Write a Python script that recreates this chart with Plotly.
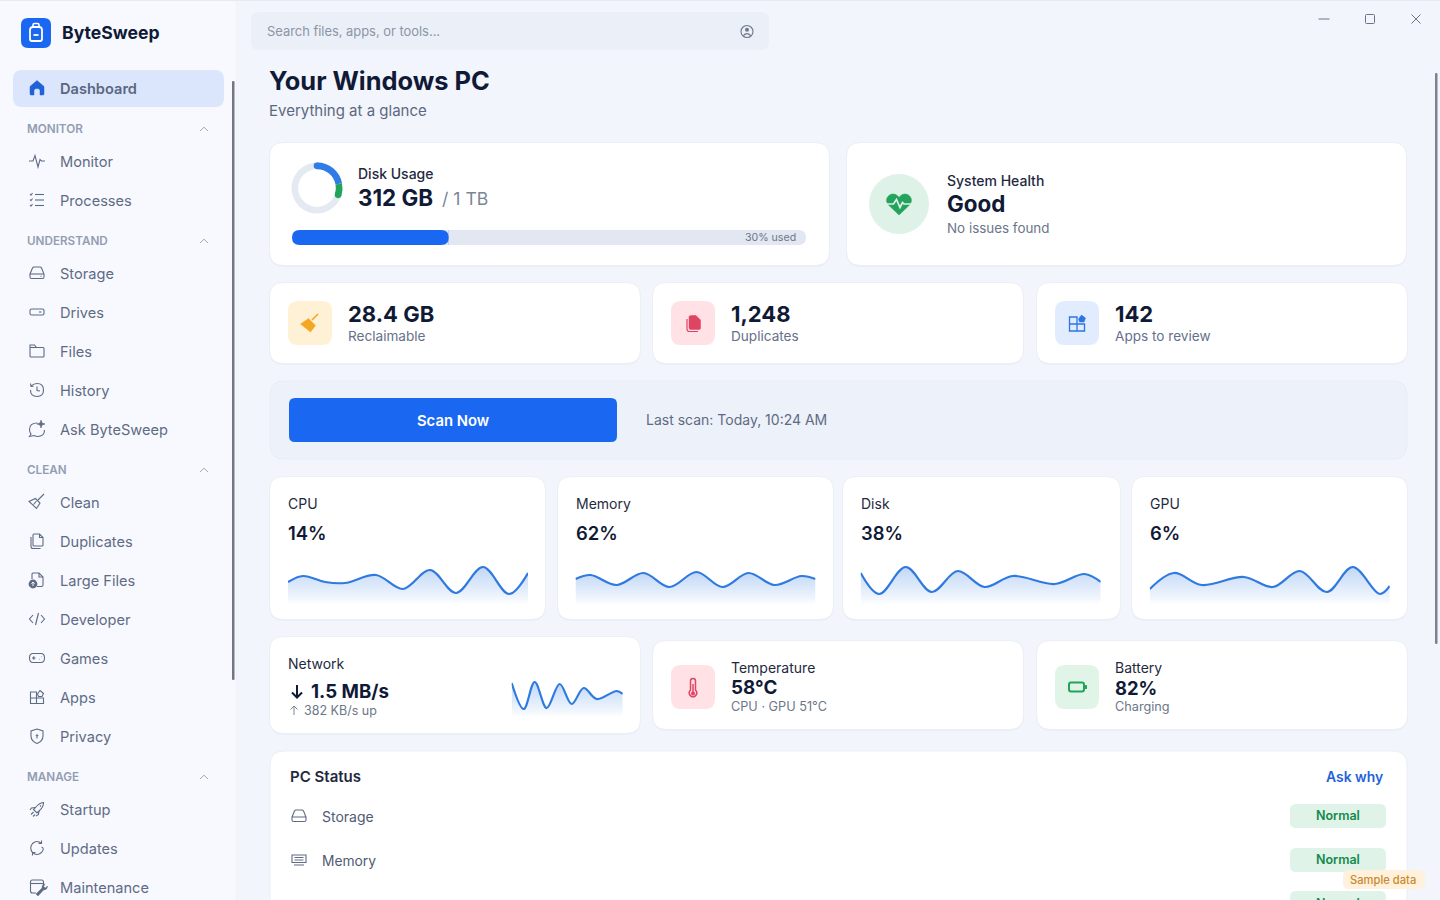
import math
import re
import plotly.graph_objects as go

# ---------- data ----------
nav_sections = ["MONITOR", "UNDERSTAND", "CLEAN", "MANAGE"]
nav_monitor = ["Monitor", "Processes"]
nav_understand = ["Storage", "Drives", "Files", "History", "Ask ByteSweep"]
nav_clean = ["Clean", "Duplicates", "Large Files", "Developer", "Games", "Apps", "Privacy"]
nav_manage = ["Startup", "Updates", "Maintenance"]

disk_labels = ["Used", "Recent", "Free"]
disk_values = [22, 8, 70]
progress_value = [30.5]
progress_total = [100]

cpu_t = [0, 15, 37, 57, 88, 115, 142, 168, 195, 221, 240]
cpu_values = [23, 29, 23, 22, 30, 16, 35, 12, 38, 11, 32]
memory_t = [0, 15, 41, 68, 94, 121, 147, 173, 199, 226, 240]
memory_values = [26, 30, 20, 32, 18, 33, 18, 32, 20, 29, 26]
disk_t = [0, 18.5, 45, 71, 97, 124, 152, 194, 224, 240]
disk_series = [32, 11, 38, 13, 34, 18, 29, 21, 31, 23]
gpu_t = [0, 24, 52, 94, 123, 150, 177, 203, 230, 240]
gpu_values = [16, 32, 20, 28, 18, 34, 13, 38, 11, 19]
network_t = [0, 12, 23, 35, 48, 60, 72, 85, 105, 111]
network_values = [34, 8, 35, 9, 33, 13, 29, 18, 26, 23]

# ---------- helpers ----------
W, H = 1440, 900
shapes, notes = [], []
INK, TXT, MUTED, SIDE = "#101a36", "#1f2a40", "#667189", "#5f6b85"
BLUE = "#1a68f2"
TRACK = "#e2e7f2"
FONT = "Inter"


def rr(x0, y0, x1, y1, r, fill="rgba(0,0,0,0)", line=None, lw=1):
    p = (f"M {x0+r} {y0} L {x1-r} {y0} Q {x1} {y0} {x1} {y0+r} L {x1} {y1-r} Q {x1} {y1} {x1-r} {y1} "
         f"L {x0+r} {y1} Q {x0} {y1} {x0} {y1-r} L {x0} {y0+r} Q {x0} {y0} {x0+r} {y0} Z")
    shapes.append(dict(type="path", path=p, xref="x", yref="y", fillcolor=fill, layer="below",
                       line=dict(color=line or "rgba(0,0,0,0)", width=lw if line else 0)))


def ic(cx, cy, path, color=SIDE, lw=1.1, fill="rgba(0,0,0,0)", layer="below"):
    toks = re.findall(r"[A-Za-z]|-?\d+\.?\d*", path)
    out, i = [], 0
    for tk in toks:
        if tk.isalpha():
            out.append(tk)
            i = 0
        else:
            out.append(f"{float(tk) + (cx if i % 2 == 0 else cy):.2f}")
            i += 1
    shapes.append(dict(type="path", path=" ".join(out), xref="x", yref="y", fillcolor=fill, layer=layer,
                       line=dict(color=color, width=lw)))


def circ(cx, cy, r, fill="rgba(0,0,0,0)", line=None, lw=1.1, layer="below"):
    shapes.append(dict(type="circle", x0=cx-r, x1=cx+r, y0=cy-r, y1=cy+r, xref="x", yref="y",
                       fillcolor=fill, layer=layer,
                       line=dict(color=line or "rgba(0,0,0,0)", width=lw if line else 0)))


def t(x, y, s, size, color=TXT, weight=400, anchor="left", yshift=0):
    notes.append(dict(x=x, y=y, xref="x", yref="y", text=s, showarrow=False, xanchor=anchor, yanchor="middle",
                      yshift=yshift, align=anchor, borderpad=0,
                      font=dict(family=FONT, size=size, color=color, weight=weight)))


def card(x0, y0, x1, y1):
    rr(x0 - 0.5, y0 + 1, x1 + 0.5, y1 + 1.8, 14, fill="#e7ecf5")
    rr(x0 - 0.5, y0 - 0.5, x1 + 0.5, y1 + 0.5, 14, fill="#ffffff", line="#eaeef6", lw=1)


# ---------- chrome ----------
rr(0, 0, 1440, 900, 0, fill="#f2f5fc")
shapes.append(dict(type="rect", x0=0, x1=236, y0=0, y1=900, xref="x", yref="y", fillcolor="#f7f9fe",
                   layer="below", line=dict(width=0)))
shapes.append(dict(type="rect", x0=236, x1=237, y0=0, y1=900, xref="x", yref="y", fillcolor="#eff2f9",
                   layer="below", line=dict(width=0)))
shapes.append(dict(type="rect", x0=0, x1=1440, y0=0, y1=1, xref="x", yref="y", fillcolor="#e6eaf2",
                   layer="below", line=dict(width=0)))
rr(232, 81, 234.5, 680, 1, fill="#727784")
rr(1435, 73, 1437.5, 644, 1, fill="#7d828e")

# logo
rr(21, 18, 51, 48, 7, fill=BLUE)
ic(36, 33, "M -6 -3 Q -6 -6 -3 -6 L 3 -6 Q 6 -6 6 -3 L 6 6 Q 6 8 4 8 L -4 8 Q -6 8 -6 6 Z", "#ffffff", 1.8)
ic(36, 33, "M -3 -6 L -3 -8 Q -3 -9.5 -1.5 -9.5 L 1.5 -9.5 Q 3 -9.5 3 -8 L 3 -6", "#ffffff", 1.6)
ic(36, 33, "M -2.5 2 L 2.5 2", "#ffffff", 1.8)
t(61, 32.5, "ByteSweep", 17.6, INK, 700)

# dashboard row
rr(13, 70, 224, 107, 9, fill="#dbe6fc")
ic(37, 88, "M -7 -1.5 L 0 -7.5 L 7 -1.5 L 7 6 Q 7 7 6 7 L 3 7 L 3 2.5 Q 3 0.5 0 0.5 Q -3 0.5 -3 2.5 L -3 7 L -6 7 Q -7 7 -7 6 Z",
   "#1f62d8", 0.5, "#1f62d8")
t(59, 88.5, "Dashboard", 14.6, "#5a6782", 600)

ICONS = {
    "Monitor": ["M -8 0 L -4 0 L -2 -5.5 L 1 6 L 3 -1.5 L 4.5 0 L 8 0"],
    "Processes": ["M -7 -6 L -6 -4.8 L -4.5 -7", "M -7 -0.5 L -6 0.7 L -4.5 -1.5", "M -7 5 L -6 6.2 L -4.5 4",
                  "M -2 -5.5 L 7 -5.5", "M -2 0 L 7 0", "M -2 5.5 L 7 5.5"],
    "Storage": ["M -7 1 L -4.5 -5 Q -4 -6 -3 -6 L 3 -6 Q 4 -6 4.5 -5 L 7 1 L 7 4 Q 7 5.5 5.5 5.5 L -5.5 5.5 Q -7 5.5 -7 4 Z",
                "M -7 1 L 7 1", "M 3.5 3.2 L 4.6 3.2"],
    "Drives": ["M -5.5 -3 L 5.5 -3 Q 7 -3 7 -1.5 L 7 1.5 Q 7 3 5.5 3 L -5.5 3 Q -7 3 -7 1.5 L -7 -1.5 Q -7 -3 -5.5 -3 Z",
               "M 2 0 L 4.5 0"],
    "Files": ["M -7 -6 L -2.5 -6 L -0.5 -3.5 L 6 -3.5 Q 7 -3.5 7 -2.5 L 7 5 Q 7 6 6 6 L -6 6 Q -7 6 -7 5 Z", "M -7 -3.5 L -0.5 -3.5"],
    "History": ["M -6 -4 Q -3 -6.5 0 -6.5 Q 6.5 -6.5 6.5 0 Q 6.5 6.5 0 6.5 Q -6.5 6.5 -6.5 0",
                "M -6.5 -6.5 L -6 -3.5 L -3.5 -3.8", "M 0 -3.5 L 0 0.5 L 3 1"],
    "Ask ByteSweep": ["M 0.5 -6 Q -7.5 -6 -7.5 0.5 Q -7.5 3.5 -6 5 L -7.5 7.5 L -3 6.5 Q -1 7.5 0.5 7.5 Q 7.5 7.5 7.5 1"],
    "Clean": ["M 7 -8 L 1 -2", "M -1.5 -3.5 L 3 1 L -0.5 6.5 L -8 -0.5 Z", "M -3.5 2.5 L -0.5 -1"],
    "Duplicates": ["M -3 -7 L 2.5 -7 L 6 -3.5 L 6 4 Q 6 5 5 5 L -3 5 Q -4 5 -4 4 L -4 -6 Q -4 -7 -3 -7 Z", "M 2.5 -7 L 2.5 -3.5 L 6 -3.5",
                   "M -6 -4 L -6 5.5 Q -6 7.5 -4 7.5 L 3.5 7.5"],
    "Large Files": ["M -4 -7 L 2 -7 L 6 -3 L 6 5 Q 6 6.5 4.5 6.5 L 0 6.5", "M -4 -7 Q -5 -7 -5 -6 L -5 -1", "M 2 -7 L 2 -3 L 6 -3"],
    "Developer": ["M -4 -4 L -7.5 0 L -4 4", "M 4 -4 L 7.5 0 L 4 4", "M 1.5 -6 L -1.5 6"],
    "Games": ["M -4 -4.5 L 4 -4.5 Q 7.5 -4.5 7.5 0 Q 7.5 4.5 4 4.5 L -4 4.5 Q -7.5 4.5 -7.5 0 Q -7.5 -4.5 -4 -4.5 Z",
              "M -5 0 L -1.5 0", "M -3.2 -1.8 L -3.2 1.8", "M 2.5 1.2 L 3 1.2", "M 4.5 -1.2 L 5 -1.2"],
    "Apps": ["M -6.5 -5 L -0.5 -5 L -0.5 6.5 L -6.5 6.5 Z", "M -6.5 1 L 6.5 1 L 6.5 6.5 L -0.5 6.5",
             "M 0.5 -3 L 3 -6.5 L 6.5 -3.5 L 5 -0.5 L 1.5 -0.5 Z"],
    "Privacy": ["M 0 -7 L 6 -5 L 6 0 Q 6 5 0 7.5 Q -6 5 -6 0 L -6 -5 Z", "M 0 -0.5 L 0 2.5", "M -1.2 0 L 0 -1.3 L 1.2 0"],
    "Startup": ["M 6.5 -6.5 Q 6.5 -1.5 2 2 L 0 4 L -3.5 0.5 L -1.5 -1.5 Q 2 -6 6.5 -6.5 Z", "M -1.5 -1.5 L -5.5 -1 L -7 1", "M 2 2 L 1.5 5.5 L -1 7",
                "M -3.5 3 L -6 5.5", "M -2 5.5 L -4 7.5", "M 3 -3.5 L 4 -2.5"],
    "Updates": ["M 4.5 -4.5 Q 0 -8.5 -4.5 -4.5 Q -8 0 -4.5 4.5", "M 4.5 -7.5 L 4.5 -4.5 L 1.5 -4.5",
                "M -4.5 4.5 Q 0 8.5 4.5 4.5 Q 8 0 4.5 -1", "M -4.5 7.5 L -4.5 4.5 L -1.5 4.5"],
    "Maintenance": ["M 6.5 -2 L 6.5 -5 Q 6.5 -7 4.5 -7 L -4.5 -7 Q -6.5 -7 -6.5 -5 L -6.5 4 Q -6.5 6 -4.5 6 L -1 6", "M -6.5 -3.5 L 6.5 -3.5"],
}

y = 129
for sec, items in zip(nav_sections, [nav_monitor, nav_understand, nav_clean, nav_manage]):
    t(26, y, sec, 11.7, "#939db2", 600)
    ic(204, y, "M -4 2 L 0 -1.8 L 4 2", "#a0a9bb", 1)
    row = y + 32
    for name in items:
        for p in ICONS[name]:
            ic(37, row, p)
        t(59, row + 1, name, 14.6, SIDE, 400)
        row += 39
    y = row - 39 + 41

# extra filled icon details
ic(37, 429, "M 4 -9 L 5 -6 L 8 -5 L 5 -4 L 4 -1 L 3 -4 L 0 -5 L 3 -6 Z", SIDE, 0.6, SIDE)
circ(33, 584, 4.4, fill=SIDE)
ic(33, 584, "M 0 2 L 0 -2 M -1.6 -0.4 L 0 -2 L 1.6 -0.4", "#f7f9fe", 1)
ic(40, 888, "M -4 6 L 2 0 Q 1.5 -3.5 5 -4 L 3.5 -1.5 L 5.5 0 L 7.5 -2 Q 7.5 2 3.5 2 L -2 8 Z", SIDE, 0.5, SIDE)

# search + window controls
rr(251, 12, 769, 50, 8, fill="#ebeff7")
t(266, 31, "Search files, apps, or tools...", 12.9, "#8b95a8", 400)
circ(747, 31.5, 6, line="#6e788d", lw=1.1)
circ(747, 29.8, 2, fill="#6e788d")
ic(747, 31.5, "M -3.6 4.2 Q 0 0 3.6 4.2", "#6e788d", 1.3)
ic(1324, 19, "M -5.5 0 L 5.5 0", "#6b7486", 1)
rr(1365.5, 14.5, 1374.5, 23.5, 1, line="#6b7486", lw=1)
ic(1416, 19, "M -4.5 -4.5 L 4.5 4.5 M 4.5 -4.5 L -4.5 4.5", "#6b7486", 1)

t(268, 80.5, "Your Windows PC", 25.4, INK, 700)
t(268, 110.5, "Everything at a glance", 15, "#5c6880", 400)

# disk + health
card(270, 143, 829, 265)
t(357, 173, "Disk Usage", 14, TXT, 500)
t(357, 197.5, "312 GB", 22.4, INK, 700)
t(441, 198.5, "/ 1 TB", 17.6, "#7b8598", 400)
t(796.5, 237, "30% used", 10.6, "#6c7689", 400, "right")
card(847, 143, 1406, 265)
circ(899, 204, 30, fill="#dff2e8")
ic(899, 205, "M 0 10 L -10.5 0 C -15 -5 -11 -11 -6 -11 C -3 -11 -1 -9 0 -7.5 C 1 -9 3 -11 6 -11 C 11 -11 15 -5 10.5 0 Z", "#23a35c", 0.5, "#23a35c")
ic(899, 204, "M -13 0 L -5.5 0 L -2.5 -4.5 L 1 3.5 L 3.5 -1.5 L 5 0 L 13 0", "#dff2e8", 1.7)
t(946, 180, "System Health", 14, TXT, 500)
t(946, 203.5, "Good", 22.4, INK, 700)
t(946, 228, "No issues found", 13.4, "#6c7689", 400)

# stat row
for x0, val, lab, bg in [(270, "28.4 GB", "Reclaimable", "#fff1d6"),
                         (653, "1,248", "Duplicates", "#ffe1e6"),
                         (1037, "142", "Apps to review", "#e2ecff")]:
    card(x0, 283, x0 + 370, 363)
    rr(x0 + 18, 301, x0 + 62, 345, 10, fill=bg)
    t(x0 + 77, 314, val, 22, INK, 700)
    t(x0 + 77, 336, lab, 13.6, "#667189", 400)
ic(310, 323, "M 8 -9 L 2 -3", "#f5a623", 1.6)
ic(310, 323, "M -1.5 -4.5 L 5.5 2.5 L 0.5 9 L -9.5 1 Z", "#f5a623", 0.5, "#f5a623")
ic(694, 323, "M -3 -7.5 L 2 -7.5 L 6.5 -3 L 6.5 5 Q 6.5 6.5 5 6.5 L -3 6.5 Q -5 6.5 -5 5 L -5 -6 Q -5 -7.5 -3 -7.5 Z", "#e04463", 0.5, "#e04463")
ic(694, 323, "M -7 -4 L -7 6 Q -7 8.5 -4.5 8.5 L 4 8.5", "#e04463", 1.2)
ic(1077, 323, "M -7.5 -6 L 0 -6 L 0 8 L -7.5 8 Z M -7.5 1 L 7.5 1 L 7.5 8 L 0 8", "#2b74e8", 1.3)
ic(1077, 323, "M 1.5 -4 L 4.5 -8 L 8.5 -5 L 7 -1 L 2.5 -1 Z", "#2b74e8", 0.5, "#2b74e8")

# scan band
rr(270, 381, 1407, 459, 14, fill="#edf1fa", line="#e8edf6")
rr(289, 398, 617, 442, 6, fill=BLUE)
t(453, 420.5, "Scan Now", 14.8, "#ffffff", 600, "center")
t(645, 419.5, "Last scan: Today, 10:24 AM", 14, "#5f6b82", 400)

# metric cards
for x0, x1, lab, val in [(270, 545, "CPU", "14%"), (558, 833, "Memory", "62%"),
                         (843, 1120, "Disk", "38%"), (1132, 1407, "GPU", "6%")]:
    card(x0, 477, x1, 619)
    t(x0 + 17, 503.5, lab, 14, TXT, 400)
    t(x0 + 17, 533, val, 18.4, INK, 600)

# lower row
card(270, 637, 640, 733)
t(287, 663.5, "Network", 14, TXT, 400)
ic(297, 691, "M 0 -6 L 0 6 M -5 1.5 L 0 6.5 L 5 1.5", INK, 2)
t(310, 691.5, "1.5 MB/s", 18.7, INK, 700)
ic(294, 710.5, "M 0 4.5 L 0 -4.5 M -3.5 -1 L 0 -4.5 L 3.5 -1", "#7b8598", 1)
t(303, 710.5, "382 KB/s up", 12.5, "#6c7689", 400)
card(653, 641, 1023, 729)
rr(671, 665, 715, 709, 10, fill="#ffe1e6")
ic(693, 687, "M -2.5 -6 Q -2.5 -8.5 0 -8.5 Q 2.5 -8.5 2.5 -6 L 2.5 3 Q 4.5 5 3.5 7.5 Q 2 10 0 10 Q -2 10 -3.5 7.5 Q -4.5 5 -2.5 3 Z", "#e04463", 1.5)
ic(693, 687, "M 0 -3 L 0 5", "#e04463", 1.5)
circ(693, 693.5, 2, fill="#e04463")
t(730, 667.5, "Temperature", 14, TXT, 400)
t(730, 687.5, "58°C", 18.8, INK, 700)
t(730, 706, "CPU · GPU 51°C", 12.7, "#6c7689", 400)
card(1037, 641, 1407, 729)
rr(1055, 665, 1099, 709, 10, fill="#e1f4e8")
rr(1069, 682.5, 1084, 691.5, 2, line="#22a35a", lw=2)
rr(1085, 685, 1087, 689, 0.5, fill="#22a35a")
t(1114, 667.5, "Battery", 14, TXT, 400)
t(1114, 687.5, "82%", 18.4, INK, 700)
t(1114, 706, "Charging", 12.7, "#6c7689", 400)

# PC status
rr(270, 751, 1407, 930, 14, fill="#ffffff", line="#eaeef6")
t(289, 776.5, "PC Status", 15, TXT, 600)
t(1384, 777, "Ask why", 13.9, "#1f62d8", 600, "right")
ic(299, 816, "M -7 1 L -4.5 -5 Q -4 -6 -3 -6 L 3 -6 Q 4 -6 4.5 -5 L 7 1 L 7 4 Q 7 5.5 5.5 5.5 L -5.5 5.5 Q -7 5.5 -7 4 Z M -7 1 L 7 1", SIDE)
t(321, 816.5, "Storage", 14, "#4f5b73", 400)
ic(299, 860, "M -7 -5 L 7 -5 L 7 2.5 L -7 2.5 Z M -4.5 -2.5 L 4.5 -2.5 M -4.5 0 L 4.5 0 M -5 5 L 5 5", SIDE)
t(321, 861, "Memory", 13.8, "#4f5b73", 400)
for yc in [816, 860, 903]:
    rr(1290, yc - 12, 1386, yc + 12, 6, fill="#e0f3e8")
t(1338, 815.5, "Normal", 12.5, "#138a4c", 600, "center")
t(1338, 859.5, "Normal", 12.5, "#138a4c", 600, "center")
t(1338, 898.5, "Normal", 12.5, "#138a4c", 600, "center", yshift=-5)
rr(1343, 870, 1425, 889, 6, fill="#fff1dc")
t(1383, 879.5, "Sample data", 11.2, "#c98a2e", 500, "center")

# ---------- traces ----------
fig = go.Figure()
layout_axes = {
    "xaxis": dict(domain=[0, 1], range=[0, W], visible=False, fixedrange=True),
    "yaxis": dict(domain=[0, 1], range=[H, 0], visible=False, fixedrange=True),
}

DONUT_CX, DONUT_CY, DONUT_R = 317, 188, 25.5
HOLE = 0.74
fig.add_trace(go.Pie(labels=disk_labels, values=disk_values, hole=HOLE, sort=False, direction="clockwise", rotation=0,
                     marker=dict(colors=["#2f7ce8", "#22a35a", "#e4e9f2"], line=dict(width=0)),
                     textinfo="none", hoverinfo="skip", showlegend=False,
                     domain=dict(x=[(DONUT_CX - DONUT_R) / W, (DONUT_CX + DONUT_R) / W],
                                 y=[1 - (DONUT_CY + DONUT_R) / H, 1 - (DONUT_CY - DONUT_R) / H])))
# rounded arc ends, placed from the pie's own values
mid_r = DONUT_R * (1 + HOLE) / 2
cap_r = DONUT_R * (1 - HOLE) / 2
total = sum(disk_values)
for frac, col in [(0, "#2f7ce8"), ((disk_values[0] + disk_values[1]) / total, "#22a35a")]:
    a = 2 * math.pi * frac
    circ(DONUT_CX + mid_r * math.sin(a), DONUT_CY - mid_r * math.cos(a), cap_r, fill=col, layer="above")

# progress bar geometry and rounded corners (masks follow the bar's own value)
BX0, BX1, BY0, BY1 = 292, 806, 230, 245
bh = BY1 - BY0
rad = bh / 2
bar_end = BX0 + (BX1 - BX0) * progress_value[0] / progress_total[0]
for ox, sign, col in [(BX0, 1, "#ffffff"), (BX1, -1, "#ffffff"), (bar_end, -1, TRACK)]:
    for oy, hh in [(0, 0), (bh, -rad)]:
        edge = oy
        mid = bh / 2
        ic(ox, BY0, f"M 0 {edge} L {sign * rad} {edge} Q 0 {edge} 0 {mid} Z".replace("- ", "-"), col, 0, col, layer="above")


def add_axes(n, x0, x1, y0, y1, xr, yr):
    layout_axes[f"xaxis{n}"] = dict(domain=[x0 / W, x1 / W], range=xr, visible=False, fixedrange=True, anchor=f"y{n}")
    layout_axes[f"yaxis{n}"] = dict(domain=[1 - y1 / H, 1 - y0 / H], range=yr, visible=False, fixedrange=True, anchor=f"x{n}")


add_axes(2, BX0, BX1, BY0, BY1, [0, 100], [-0.5, 0.5])
fig.add_trace(go.Bar(x=progress_total, y=[0], orientation="h", width=1, marker=dict(color=TRACK, line=dict(width=0)),
                     xaxis="x2", yaxis="y2", hoverinfo="skip", showlegend=False))
fig.add_trace(go.Bar(x=progress_value, y=[0], orientation="h", width=1, marker=dict(color=BLUE, line=dict(width=0)),
                     xaxis="x2", yaxis="y2", hoverinfo="skip", showlegend=False))

sparks = [(3, 288, 528, 565, 605, 240, 40, cpu_t, cpu_values), (4, 575.5, 815.5, 565, 605, 240, 40, memory_t, memory_values),
          (5, 860.7, 1100.7, 565, 605, 240, 40, disk_t, disk_series), (6, 1149.8, 1389.8, 565, 605, 240, 40, gpu_t, gpu_values),
          (7, 511.7, 622.7, 677, 717, 111, 40, network_t, network_values)]
for n, x0, x1, y0, y1, xm, ym, xs, ys in sparks:
    add_axes(n, x0, x1, y0, y1, [0, xm], [0, ym])
    fig.add_trace(go.Scatter(x=xs, y=ys, mode="lines", line=dict(color="#2f7ae0", width=2.2, shape="spline", smoothing=1.0),
                             fill="tozeroy",
                             fillgradient=dict(type="vertical", colorscale=[[0, "rgba(47,122,224,0)"], [0.25, "rgba(47,122,224,0.09)"], [1, "rgba(47,122,224,0.3)"]]),
                             xaxis=f"x{n}", yaxis=f"y{n}", hoverinfo="skip", showlegend=False, cliponaxis=False))

fig.update_layout(width=W, height=H, autosize=False, margin=dict(l=0, r=0, t=0, b=0), paper_bgcolor="#f2f5fc",
                  plot_bgcolor="rgba(0,0,0,0)", barmode="overlay", shapes=shapes, annotations=notes,
                  font=dict(family=FONT), **layout_axes)
fig.write_html("out.html", config=dict(displayModeBar=False, responsive=False),
               post_script="document.body.style.margin='0';document.documentElement.style.overflow='hidden';")
